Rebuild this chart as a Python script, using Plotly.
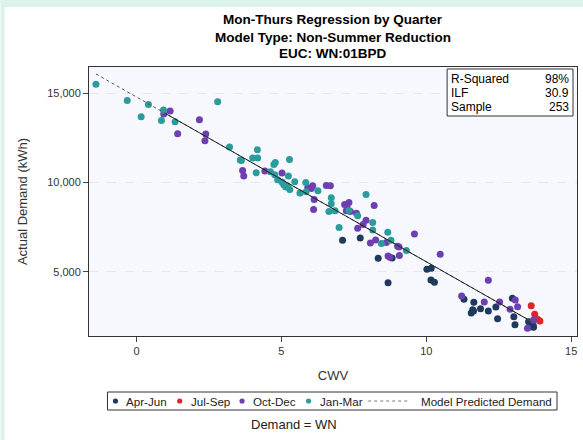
import plotly.graph_objects as go

# ---------------- data ----------------
apr_jun_x = [7.11, 7.72, 8.34, 8.82, 8.68, 10.02, 10.17, 10.16, 10.28, 11.30, 11.64, 11.60, 11.55,
             11.63, 11.87, 12.14, 12.40, 12.46, 12.97, 13.02, 13.06, 13.53, 13.62, 13.68, 13.70, 13.59]
apr_jun_y = [6764, 6893, 5753, 5770, 4382, 5135, 5191, 4534, 4405, 3449, 3281, 2865, 2680,
             2792, 2921, 2792, 3017, 2360, 3505, 2472, 2023, 2191, 2135, 2006, 1876, 1910]

jul_sep_x = [13.62, 13.74, 13.84, 13.92]
jul_sep_y = [3090, 2607, 2326, 2230]

oct_dec_x = [1.16, 0.94, 1.42, 2.17, 2.39, 2.36, 3.66, 3.70, 4.43, 5.02, 5.91, 6.08, 6.03, 6.55,
             6.69, 6.13, 6.11, 8.20, 7.18, 7.33, 7.26, 7.24, 7.38, 7.59, 7.92, 7.82, 7.63, 8.25,
             8.07, 8.62, 9.01, 9.06, 9.59, 8.68, 8.74, 9.07, 10.48, 12.14, 11.22, 12.00, 12.53,
             13.07, 12.89, 13.15, 13.49, 13.70]
oct_dec_y = [14011, 13843, 12736, 13522, 12719, 12343, 10674, 10360, 10640, 10527, 9702, 9815, 9663, 9831,
             9815, 9045, 8483, 8708, 8764, 8876, 8652, 8410, 8371, 8281, 7888, 7640, 7438, 6781,
             6612, 6629, 6427, 6388, 7118, 5882, 5809, 5899, 5978, 4517, 3635, 3298, 3298,
             3410, 2888, 3034, 1820, 2286]

jan_mar_x = [-1.40, -0.32, 0.41, 0.16, 0.93, 0.86, 1.33, 2.80, 3.21, 3.58, 3.62, 4.01, 4.17, 4.18,
             4.13, 5.28, 4.74, 4.79, 4.62, 4.77, 5.24, 4.87, 5.02, 5.46, 5.08, 5.20, 5.29, 5.15,
             5.84, 5.64, 5.85, 6.26, 6.72, 6.72, 6.64, 6.85, 7.92, 7.33, 6.99, 7.63, 8.15, 8.15,
             8.67, 8.45, 8.78, 9.31]
jan_mar_y = [15506, 14607, 14382, 13691, 14067, 13484, 13410, 14534, 11989, 11260, 11230, 11371, 11837, 11371,
             10545, 11292, 11011, 11124, 10600, 10433, 10360, 10152, 10022, 10039, 9871, 9815, 9607, 9742,
             10000, 9405, 9478, 9534, 9140, 8803, 8371, 8410, 9326, 8427, 7472, 8129, 7753, 7343,
             7213, 6573, 6764, 6180]

model_x = [-1.40, 13.90]
model_y = [16090, 1950]
model_solid_x = [1.00, 13.50]
model_solid_y = [13870, 2320]

stats_labels = ["R-Squared", "ILF", "Sample"]
stats_values = ["98%", "30.9", "253"]

series_names = ["Apr-Jun", "Jul-Sep", "Oct-Dec", "Jan-Mar"]
series_colors = ["#1f3a5c", "#e0242c", "#6e3fb0", "#2b9c9c"]

x_ticks = [0, 5, 10, 15]
y_ticks = [5000, 10000, 15000]

# ---------------- layout geometry ----------------
W, H = 583, 440
ML, MR, MT, MB = 88.5, 6, 67, 104
PW, PH = W - ML - MR, H - MT - MB
FONT = "Liberation Sans, Arial, sans-serif"


def px2x(px):
    return (px - ML) / PW


def py2y(py):
    return (H - MB - py) / PH


fig = go.Figure()

series = [(apr_jun_x, apr_jun_y), (jul_sep_x, jul_sep_y), (oct_dec_x, oct_dec_y), (jan_mar_x, jan_mar_y)]
for (xs, ys), name, col in zip(series, series_names, series_colors):
    fig.add_trace(go.Scatter(x=xs, y=ys, mode="markers", name=name,
                             marker=dict(color=col, size=7, line=dict(width=0)),
                             showlegend=False))

fig.add_trace(go.Scatter(x=model_x, y=model_y, mode="lines", name="Model Predicted Demand",
                         line=dict(color="#555555", width=1, dash="dot"), showlegend=False))
fig.add_trace(go.Scatter(x=model_solid_x, y=model_solid_y, mode="lines", showlegend=False,
                         line=dict(color="#222222", width=1)))

shapes = [
    # mint page border
    dict(type="rect", xref="paper", yref="paper", x0=px2x(0), x1=px2x(4), y0=py2y(H), y1=py2y(0),
         fillcolor="#dcf3ec", line=dict(width=0), layer="below"),
    dict(type="rect", xref="paper", yref="paper", x0=px2x(0), x1=px2x(W), y0=py2y(7), y1=py2y(0),
         fillcolor="#dcf3ec", line=dict(width=0), layer="below"),
    # stats box
    dict(type="rect", xref="paper", yref="paper", x0=px2x(447), x1=px2x(573), y0=py2y(116), y1=py2y(69),
         fillcolor="white", line=dict(color="#333333", width=1)),
    # legend box
    dict(type="rect", xref="paper", yref="paper", x0=px2x(107), x1=px2x(557), y0=py2y(410), y1=py2y(392),
         fillcolor="white", line=dict(color="#333333", width=1)),
    # legend line sample
    dict(type="line", xref="paper", yref="paper", x0=px2x(368), x1=px2x(410), y0=py2y(401), y1=py2y(401),
         line=dict(color="#777777", width=1, dash="dot")),
]

annotations = []
# title lines
for txt, py in [("Mon-Thurs Regression by Quarter", 19), ("Model Type: Non-Summer Reduction", 37),
                ("EUC: WN:01BPD", 53.5)]:
    annotations.append(dict(text="<b>" + txt + "</b>", xref="paper", yref="paper", x=px2x(332.5), y=py2y(py),
                            xanchor="center", yanchor="middle", showarrow=False,
                            font=dict(family=FONT, size=13.5, color="black")))

# stats table
for i, (lab, val) in enumerate(zip(stats_labels, stats_values)):
    py = 78.5 + i * 14
    annotations.append(dict(text=lab, xref="paper", yref="paper", x=px2x(449), y=py2y(py),
                            xanchor="left", yanchor="middle", showarrow=False,
                            font=dict(family=FONT, size=12, color="black")))
    annotations.append(dict(text=val, xref="paper", yref="paper", x=px2x(571), y=py2y(py),
                            xanchor="right", yanchor="middle", showarrow=False,
                            font=dict(family=FONT, size=12, color="black")))

# legend items
dot_px = [115, 179.3, 241.7, 308.3]
for name, col, dpx in zip(series_names, series_colors, dot_px):
    shapes.append(dict(type="circle", xref="paper", yref="paper", xsizemode="pixel", ysizemode="pixel",
                       xanchor=px2x(dpx), yanchor=py2y(401), x0=-2.6, x1=2.6, y0=-2.6, y1=2.6,
                       fillcolor=col, line=dict(width=0)))
    annotations.append(dict(text=name, xref="paper", yref="paper", x=px2x(dpx + 9), y=py2y(401),
                            xanchor="left", yanchor="middle", showarrow=False,
                            font=dict(family=FONT, size=11.6, color="#222222")))
annotations.append(dict(text="Model Predicted Demand", xref="paper", yref="paper", x=px2x(418.5), y=py2y(401),
                        xanchor="left", yanchor="middle", showarrow=False,
                        font=dict(family=FONT, size=11.6, color="#222222")))
annotations.append(dict(text="Demand = WN", xref="paper", yref="paper", x=px2x(293.5), y=py2y(424),
                        xanchor="center", yanchor="middle", showarrow=False,
                        font=dict(family=FONT, size=13, color="#222222")))

fig.update_layout(
    width=W, height=H, margin=dict(l=ML, r=MR, t=MT, b=MB),
    paper_bgcolor="white", plot_bgcolor="#f7f8fe",
    font=dict(family=FONT, size=11, color="#333333"),
    showlegend=False, shapes=shapes, annotations=annotations,
    xaxis=dict(range=[-1.64, 15.2], tickvals=x_ticks, ticks="outside", ticklen=5, tickcolor="#444444",
               showgrid=False, zeroline=False, showline=True, linecolor="#333333", linewidth=1, mirror=True,
               tickfont=dict(size=11, color="#333333"),
               title=dict(text="CWV", font=dict(size=13, color="#333333"), standoff=14)),
    yaxis=dict(range=[1390, 16480], tickvals=y_ticks, tickformat=",", ticks="outside", ticklen=5,
               tickcolor="#444444", showgrid=True, gridcolor="#e6e7ee", griddash="dash", gridwidth=1,
               zeroline=False, showline=True, linecolor="#333333", linewidth=1, mirror=True,
               tickfont=dict(size=11, color="#333333"),
               title=dict(text="Actual Demand (kWh)", font=dict(size=13, color="#333333"), standoff=16)),
)

fig.write_html("out.html")
